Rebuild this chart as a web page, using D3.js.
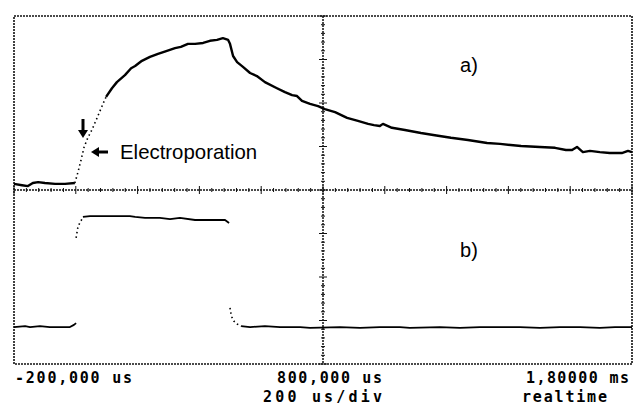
<!DOCTYPE html>
<html>
<head>
<meta charset="utf-8">
<script src="https://cdn.jsdelivr.net/npm/d3@7"></script>
<style>
  body { margin: 0; background: #fff; }
  svg { display: block; }
</style>
</head>
<body>
<div class="scope"></div>
<script>
// time in us, level in divisions (-4 .. 4)
const aBase = [[-200,0.14],[-174,0.11],[-155,0.09],[-139,0.16],[-122,0.18],[-100,0.16],[-67,0.14],[-35,0.14],[-3,0.16]];
const aRise = [[-3,0.16],[7,0.41],[17,0.69],[27,0.99],[39,1.20],[52,1.38],[69,1.66],[85,1.93],[98,2.14]];
const aMain = [[98,2.14],[117,2.34],[133,2.48],[159,2.64],[179,2.80],[192,2.85],[214,2.97],[240,3.06],[266,3.13],
  [295,3.20],[321,3.26],[340,3.29],[363,3.36],[386,3.36],[412,3.38],[434,3.43],[457,3.45],[476,3.49],[493,3.45],
  [499,3.36],[509,3.08],[522,2.94],[541,2.83],[564,2.69],[586,2.62],[612,2.48],[651,2.34],[677,2.25],[700,2.18],
  [716,2.16],[732,2.05],[758,1.98],[784,1.93],[806,1.86],[839,1.79],[878,1.66],[913,1.59],[946,1.52],[965,1.49],
  [984,1.47],[994,1.52],[1023,1.43],[1065,1.38],[1117,1.31],[1162,1.26],[1214,1.20],[1269,1.15],[1331,1.08],
  [1373,1.06],[1441,1.01],[1502,0.99],[1551,0.97],[1586,0.92],[1606,0.92],[1622,0.99],[1641,0.87],[1664,0.90],
  [1696,0.87],[1728,0.85],[1767,0.85],[1787,0.90],[1800,0.87]];

const bPre = [[-200,-3.15],[-164,-3.13],[-148,-3.15],[-116,-3.13],[-84,-3.15],[-45,-3.15],[-19,-3.15],[-6,-3.10],[1,-3.06]];
const bRise = [[1,-1.10],[4,-0.97],[7,-0.85],[14,-0.74],[20,-0.67]];
const bTop = [[23,-0.62],[46,-0.60],[111,-0.60],[175,-0.60],[192,-0.62],[224,-0.64],[272,-0.64],[305,-0.67],
  [337,-0.64],[386,-0.69],[434,-0.69],[483,-0.69],[496,-0.76]];
const bFall = [[499,-2.71],[502,-2.83],[505,-2.92],[511,-3.01],[522,-3.08],[535,-3.13]];
const bPost = [[535,-3.13],[564,-3.15],[612,-3.13],[661,-3.15],[726,-3.15],[758,-3.17],[855,-3.15],[920,-3.17],
  [984,-3.15],[1049,-3.15],[1081,-3.17],[1178,-3.15],[1243,-3.17],[1308,-3.15],[1373,-3.15],[1437,-3.15],
  [1502,-3.17],[1567,-3.15],[1632,-3.15],[1696,-3.17],[1745,-3.15],[1800,-3.15]];

const readout1 = ["-200,000 us", "800,000 us", "1,80000 ms"];
const readout2 = ["200  us/div", "realtime"];

const width = 634, height = 407;
let axisX = d3.scaleLinear().domain([-200, 1800]).range([14, 632]);
let axisY = d3.scaleLinear().domain([-4, 4]).range([364, 16]);

const svg = d3.select(".scope").append("svg")
    .attr("width", width).attr("height", height);

// dotted frame
svg.append("rect")
    .attr("x", axisX(-200)).attr("y", axisY(4))
    .attr("width", axisX(1800) - axisX(-200)).attr("height", axisY(-4) - axisY(4))
    .attr("fill", "none").attr("stroke", "#111").attr("stroke-width", 1.6)
    .attr("stroke-dasharray", "2,1");

// centre crosshair with div / subdiv ticks
const g = svg.append("g").attr("stroke", "#111");
g.append("line").attr("x1", axisX(-200)).attr("x2", axisX(1800))
    .attr("y1", axisY(0)).attr("y2", axisY(0)).attr("stroke-dasharray", "2,1").attr("stroke-width", 1.5);
g.append("line").attr("x1", axisX(800)).attr("x2", axisX(800))
    .attr("y1", axisY(4)).attr("y2", axisY(-4)).attr("stroke-dasharray", "2,1").attr("stroke-width", 1.5);

g.selectAll(".tx").data(d3.range(-200, 1801, 40)).enter().append("line")
    .attr("x1", d => axisX(d)).attr("x2", d => axisX(d))
    .attr("y1", d => axisY(0) - ((d + 200) % 200 === 0 ? 4 : 2))
    .attr("y2", d => axisY(0) + ((d + 200) % 200 === 0 ? 4 : 2))
    .attr("stroke-width", 1);
g.selectAll(".ty").data(d3.range(-4, 4.01, 0.2)).enter().append("line")
    .attr("y1", d => axisY(d)).attr("y2", d => axisY(d))
    .attr("x1", d => axisX(800) - (Math.abs(d - Math.round(d)) < 0.01 ? 4 : 2))
    .attr("x2", d => axisX(800) + (Math.abs(d - Math.round(d)) < 0.01 ? 4 : 2))
    .attr("stroke-width", 1);

const line = d3.line().x(d => axisX(d[0])).y(d => axisY(d[1]));

function trace(data, w, dotted) {
    svg.append("path").datum(data).attr("d", line)
        .attr("fill", "none").attr("stroke", "#000")
        .attr("stroke-width", w)
        .attr("stroke-linejoin", "round")
        .attr("stroke-dasharray", dotted ? "1.5,3" : null);
}
trace(aBase, 2.4); trace(aRise, 1.6, true); trace(aMain, 2.4);
trace(bPre, 1.8); trace(bRise, 1.6, true); trace(bTop, 1.8); trace(bFall, 1.6, true); trace(bPost, 1.8);

// labels
svg.append("text").attr("x", 469).attr("y", 72).attr("text-anchor", "middle")
    .attr("font-family", "Liberation Sans, Arial").attr("font-size", 20).text("a)");
svg.append("text").attr("x", 469).attr("y", 257).attr("text-anchor", "middle")
    .attr("font-family", "Liberation Sans, Arial").attr("font-size", 20).text("b)");
svg.append("text").attr("x", 120).attr("y", 159)
    .attr("font-family", "Liberation Sans, Arial").attr("font-size", 20.4).text("Electroporation");

// arrows
svg.append("line").attr("x1", 108).attr("x2", 97).attr("y1", 152).attr("y2", 152)
    .attr("stroke", "#000").attr("stroke-width", 3);
svg.append("path").attr("d", "M91,152 L99,147 L99,157 Z").attr("fill", "#000");
svg.append("line").attr("x1", 83).attr("x2", 83).attr("y1", 119).attr("y2", 131)
    .attr("stroke", "#000").attr("stroke-width", 3);
svg.append("path").attr("d", "M83,138 L78,130 L88,130 Z").attr("fill", "#000");

// readout
const mono = "DejaVu Sans Mono, Liberation Mono, monospace";
const r1 = [[15, 117], [277, 105], [526, 103]];
svg.selectAll(".r1").data(readout1).enter().append("text")
    .attr("x", (d, i) => r1[i][0]).attr("y", 383)
    .attr("textLength", (d, i) => r1[i][1]).attr("lengthAdjust", "spacing")
    .attr("font-family", mono).attr("font-size", 15).attr("font-weight", "bold").text(d => d);
const r2 = [[263, 119], [522, 85]];
svg.selectAll(".r2").data(readout2).enter().append("text")
    .attr("x", (d, i) => r2[i][0]).attr("y", 402)
    .attr("textLength", (d, i) => r2[i][1]).attr("lengthAdjust", "spacing")
    .attr("font-family", mono).attr("font-size", 15).attr("font-weight", "bold").text(d => d);
</script>
</body>
</html>
